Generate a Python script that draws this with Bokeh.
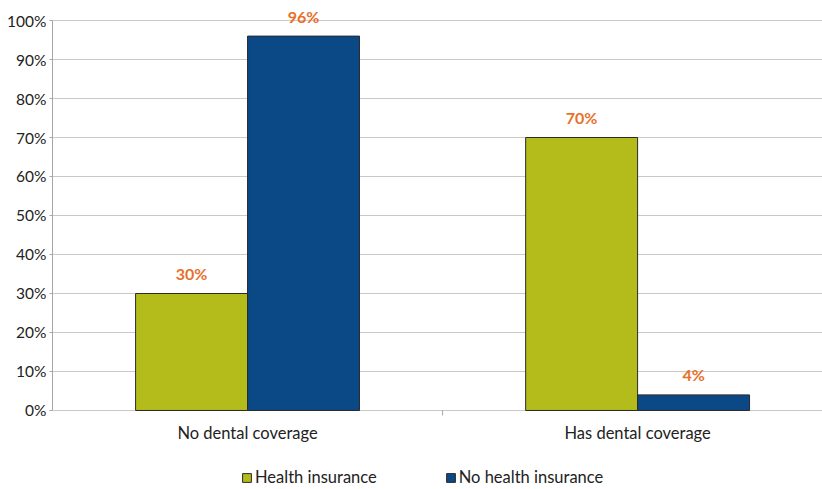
import numpy as np
from bokeh.plotting import figure
from bokeh.models import (ColumnDataSource, Range1d, FixedTicker, PrintfTickFormatter,
                          Legend, LegendItem)
from bokeh.transform import dodge
from bokeh.core.properties import value
from bokeh.embed import file_html
from bokeh.resources import INLINE

categories = ["No dental coverage", "Has dental coverage"]
health_insurance = [30, 70]
no_health_insurance = [96, 4]
series_names = ["Health insurance", "No health insurance"]
y_ticks = [0, 10, 20, 30, 40, 50, 60, 70, 80, 90, 100]

GREEN = "#B3BC1B"
BLUE = "#0B4886"
ORANGE = "#E8702A"
FONT = "Lato"

xpos = [i + 0.5 for i in range(len(categories))]
boundaries = [(a + b) / 2 for a, b in zip(xpos[:-1], xpos[1:])]
src = ColumnDataSource(dict(
    x=xpos,
    cat=categories,
    base=[0] * len(categories),
    hi=health_insurance,
    nhi=no_health_insurance,
    hi_lbl=[f"{v}%" for v in health_insurance],
    nhi_lbl=[f"{v}%" for v in no_health_insurance],
))

p = figure(width=822, height=489, output_backend="svg", toolbar_location=None,
           x_range=Range1d(0, 1.974), y_range=Range1d(-20.26, 105.13),
           min_border_left=52, min_border_right=0, min_border_top=0, min_border_bottom=0)
p.outline_line_color = None
p.background_fill_color = "white"
p.border_fill_color = "white"
p.xaxis.visible = False

p.xgrid.grid_line_color = None
p.ygrid.ticker = FixedTicker(ticks=y_ticks)
p.ygrid.grid_line_color = "#c9c9c9"
p.ygrid.grid_line_width = 1

# category boundary tick below the baseline
p.ray(x=boundaries, y=[0] * len(boundaries), length=5, length_units="screen",
      angle=-np.pi / 2, line_color="#a6a6a6", line_width=1)

bw = 0.287
r1 = p.vbar(x=dodge("x", -bw / 2, range=p.x_range), top="hi", width=bw, source=src,
            fill_color=GREEN, line_color="#2b2b2b", line_width=1)
r2 = p.vbar(x=dodge("x", bw / 2, range=p.x_range), top="nhi", width=bw, source=src,
            fill_color=BLUE, line_color="#2b2b2b", line_width=1)

for key, lbl, off in (("hi", "hi_lbl", -bw / 2), ("nhi", "nhi_lbl", bw / 2)):
    p.text(x=dodge("x", off, range=p.x_range), y=key, text=lbl, source=src,
           text_align="center", text_baseline="middle", y_offset=-20,
           text_color=ORANGE, text_font=value(FONT), text_font_style="bold",
           text_font_size="16px")

# category labels under the baseline
p.text(x="x", y="base", text="cat", source=src, text_align="center",
       text_baseline="middle", y_offset=23, text_color="#222222",
       text_font=value(FONT), text_font_size="16.5px")

# y axis
p.yaxis.ticker = FixedTicker(ticks=y_ticks)
p.yaxis.formatter = PrintfTickFormatter(format="%d%%")
p.yaxis.bounds = (0, 100)
p.yaxis.axis_line_color = "#a6a6a6"
p.yaxis.major_tick_line_color = "#a6a6a6"
p.yaxis.major_tick_out = 3
p.yaxis.major_tick_in = 0
p.yaxis.minor_tick_line_color = None
p.yaxis.major_label_standoff = 3
p.yaxis.major_label_text_font = FONT
p.yaxis.major_label_text_font_size = "15.5px"
p.yaxis.major_label_text_color = "#222222"

legend = Legend(items=[LegendItem(label=series_names[0], renderers=[r1]),
                       LegendItem(label=series_names[1], renderers=[r2])],
                location=(189, 2), orientation="horizontal",
                padding=0, margin=0, spacing=68, label_standoff=3,
                glyph_width=11, glyph_height=11,
                label_text_font=FONT, label_text_font_size="16.5px",
                label_text_color="#222222",
                background_fill_alpha=0, border_line_color=None)
p.add_layout(legend, "center")

open("out.html", "w").write(file_html(p, INLINE))
